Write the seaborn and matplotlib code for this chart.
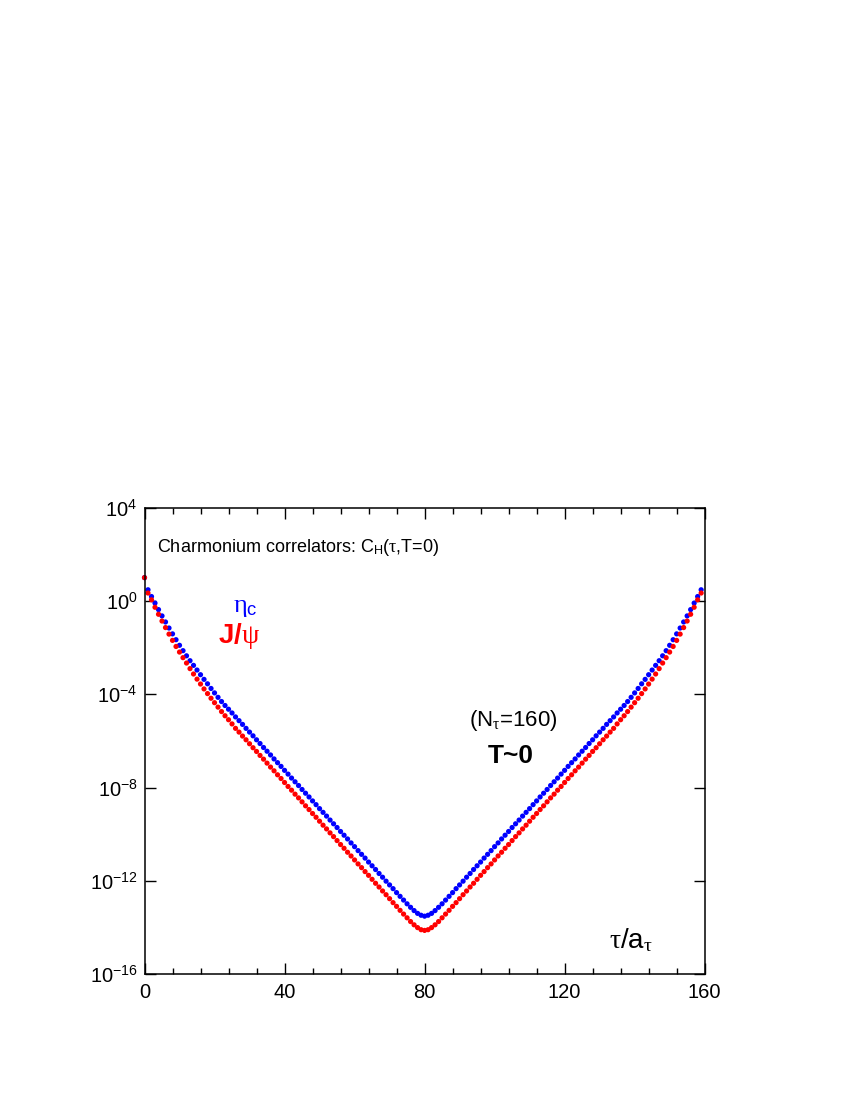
import matplotlib
matplotlib.use("Agg")
import matplotlib.pyplot as plt
from matplotlib.ticker import FixedLocator, MultipleLocator, FixedFormatter
import numpy as np
import pandas as pd
import seaborn as sns

# ── Data: log10 of the correlators, tau = 0 .. 159 ────────────────────────────
TAU = list(range(160))

ETA_C_LOG10 = [
    1.00, 0.48, 0.19, -0.09, -0.37, -0.64, -0.90, -1.16, -1.41, -1.66,
    -1.90, -2.13, -2.35, -2.56, -2.76, -2.96, -3.16, -3.36, -3.55, -3.75,
    -3.94, -4.13, -4.31, -4.48, -4.64, -4.80, -4.97, -5.13, -5.29, -5.46,
    -5.62, -5.78, -5.95, -6.11, -6.28, -6.44, -6.60, -6.77, -6.93, -7.09,
    -7.26, -7.42, -7.59, -7.75, -7.91, -8.08, -8.24, -8.40, -8.57, -8.73,
    -8.90, -9.06, -9.22, -9.39, -9.55, -9.71, -9.88, -10.04, -10.20, -10.37,
    -10.53, -10.70, -10.86, -11.02, -11.19, -11.35, -11.51, -11.68, -11.84, -12.01,
    -12.17, -12.33, -12.50, -12.66, -12.82, -12.98, -13.13, -13.27, -13.39, -13.47,
    -13.51,
    -13.47, -13.39, -13.27, -13.13, -12.98, -12.82, -12.66, -12.50, -12.33, -12.17,
    -12.01, -11.84, -11.68, -11.51, -11.35, -11.19, -11.02, -10.86, -10.70, -10.53,
    -10.37, -10.20, -10.04, -9.88, -9.71, -9.55, -9.39, -9.22, -9.06, -8.90,
    -8.73, -8.57, -8.40, -8.24, -8.08, -7.91, -7.75, -7.59, -7.42, -7.26,
    -7.09, -6.93, -6.77, -6.60, -6.44, -6.28, -6.11, -5.95, -5.78, -5.62,
    -5.46, -5.29, -5.13, -4.97, -4.80, -4.64, -4.48, -4.31, -4.13, -3.94,
    -3.75, -3.55, -3.36, -3.16, -2.96, -2.76, -2.56, -2.35, -2.13, -1.90,
    -1.66, -1.41, -1.16, -0.90, -0.64, -0.37, -0.09, 0.19, 0.48,
]

JPSI_LOG10 = [
    1.00, 0.34, 0.05, -0.27, -0.57, -0.86, -1.14, -1.42, -1.69, -1.95,
    -2.19, -2.43, -2.66, -2.90, -3.13, -3.35, -3.56, -3.77, -3.97, -4.17,
    -4.36, -4.55, -4.74, -4.92, -5.09, -5.27, -5.46, -5.62, -5.79, -5.95,
    -6.12, -6.29, -6.45, -6.62, -6.78, -6.95, -7.12, -7.28, -7.45, -7.61,
    -7.78, -7.95, -8.11, -8.28, -8.44, -8.61, -8.78, -8.94, -9.11, -9.27,
    -9.44, -9.61, -9.77, -9.94, -10.10, -10.27, -10.44, -10.60, -10.77, -10.93,
    -11.10, -11.27, -11.43, -11.60, -11.76, -11.93, -12.10, -12.26, -12.43, -12.59,
    -12.76, -12.93, -13.09, -13.26, -13.42, -13.58, -13.74, -13.88, -14.00, -14.09,
    -14.12,
    -14.09, -14.00, -13.88, -13.74, -13.58, -13.42, -13.26, -13.09, -12.93, -12.76,
    -12.59, -12.43, -12.26, -12.10, -11.93, -11.76, -11.60, -11.43, -11.27, -11.10,
    -10.93, -10.77, -10.60, -10.44, -10.27, -10.10, -9.94, -9.77, -9.61, -9.44,
    -9.27, -9.11, -8.94, -8.78, -8.61, -8.44, -8.28, -8.11, -7.95, -7.78,
    -7.61, -7.45, -7.28, -7.12, -6.95, -6.78, -6.62, -6.45, -6.29, -6.12,
    -5.95, -5.79, -5.62, -5.46, -5.27, -5.09, -4.92, -4.74, -4.55, -4.36,
    -4.17, -3.97, -3.77, -3.56, -3.35, -3.13, -2.90, -2.66, -2.43, -2.19,
    -1.95, -1.69, -1.42, -1.14, -0.86, -0.57, -0.27, 0.05, 0.34,
]

X_TICKS = [0, 40, 80, 120, 160]
Y_EXPONENTS = [4, 0, -4, -8, -12, -16]

BLUE = "#0000ff"
RED = "#ff0000"

# ── Style ─────────────────────────────────────────────────────────────────────
sns.set_style("ticks")
plt.rcParams["font.family"] = ["Liberation Sans", "DejaVu Sans"]
plt.rcParams["mathtext.fontset"] = "custom"
plt.rcParams["mathtext.rm"] = "Liberation Sans"
plt.rcParams["mathtext.it"] = "Liberation Serif"
plt.rcParams["mathtext.bf"] = "Liberation Sans:bold"

df = pd.concat([
    pd.DataFrame({"tau": TAU, "C": 10.0 ** np.array(ETA_C_LOG10), "channel": "eta_c"}),
    pd.DataFrame({"tau": TAU, "C": 10.0 ** np.array(JPSI_LOG10), "channel": "jpsi"}),
], ignore_index=True)

fig = plt.figure(figsize=(8.5, 11), dpi=100)
fig.patch.set_facecolor("white")
ax = fig.add_axes([0.170, 0.1143, 0.659, 0.4242])
ax.set_yscale("log")

sns.scatterplot(data=df, x="tau", y="C", hue="channel",
                palette={"eta_c": BLUE, "jpsi": RED},
                s=14, linewidth=0, legend=False, clip_on=False, ax=ax)

ax.set_xlim(0, 160)
ax.set_ylim(1e-16, 1e4)
ax.set_xlabel("")
ax.set_ylabel("")

ax.xaxis.set_major_locator(FixedLocator(X_TICKS))
ax.xaxis.set_minor_locator(MultipleLocator(8))
ax.set_xticklabels([str(t) for t in X_TICKS])

y_vals = [10.0 ** e for e in Y_EXPONENTS]
ax.yaxis.set_major_locator(FixedLocator(y_vals))
ax.yaxis.set_major_formatter(FixedFormatter([r"$\mathrm{10^{%d}}$" % e for e in Y_EXPONENTS]))
ax.yaxis.set_minor_locator(FixedLocator([]))

ax.tick_params(which="both", direction="in", top=True, right=True,
               colors="black", labelsize=14.5, width=1.0)
ax.tick_params(which="major", length=8)
ax.tick_params(which="minor", length=4)
ax.tick_params(axis="x", pad=6)
ax.tick_params(axis="y", pad=5)
for sp in ax.spines.values():
    sp.set_edgecolor("black")
    sp.set_linewidth(1.1)

# ── Annotations ───────────────────────────────────────────────────────────────
ax.text(0.022, 0.906, r"Charmonium correlators: C$_{\mathrm{H}}$($\tau$,T=0)",
        transform=ax.transAxes, fontsize=13, color="black", va="baseline")
ax.text(0.158, 0.777, r"$\eta_{\mathrm{c}}$", transform=ax.transAxes,
        fontsize=19, color=BLUE, va="baseline")
ax.text(0.132, 0.710, r"$\mathbf{J/}\psi$", transform=ax.transAxes,
        fontsize=20, color=RED, va="baseline")
ax.text(0.579, 0.532, r"(N$_{\tau}$=160)", transform=ax.transAxes,
        fontsize=16, color="black", va="baseline")
ax.text(0.613, 0.453, "T~0", transform=ax.transAxes,
        fontsize=19, fontweight="bold", color="black", va="baseline")
ax.text(0.829, 0.057, r"$\tau\mathrm{/a}_{\tau}$", transform=ax.transAxes,
        fontsize=20, color="black", va="baseline")

fig.savefig("out.png", dpi=100, facecolor="white")
